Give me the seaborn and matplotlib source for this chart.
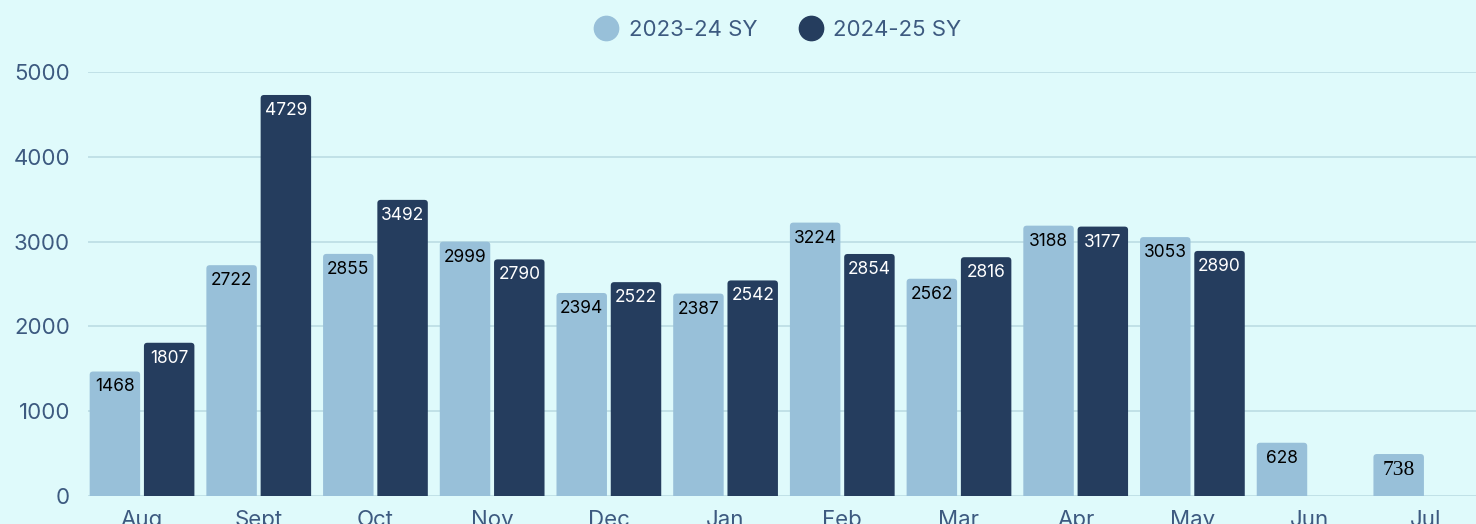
import numpy as np
import pandas as pd
import matplotlib
matplotlib.use("Agg")
import matplotlib.pyplot as plt
from matplotlib.patches import FancyBboxPatch
from matplotlib.lines import Line2D
import seaborn as sns

months = ["Aug", "Sept", "Oct", "Nov", "Dec", "Jan", "Feb", "Mar", "Apr", "May", "Jun", "Jul"]
# bar heights as drawn in the picture (the Jul bar is drawn at ~495 although labelled 738)
sy_2023_24 = [1468, 2722, 2855, 2999, 2394, 2387, 3224, 2562, 3188, 3053, 628, 495]
sy_2024_25 = [1807, 4729, 3492, 2790, 2522, 2542, 2854, 2816, 3177, 2890, np.nan, np.nan]
labels_2023_24 = ["1468", "2722", "2855", "2999", "2394", "2387", "3224", "2562", "3188", "3053", "628", "738"]
labels_2024_25 = ["1807", "4729", "3492", "2790", "2522", "2542", "2854", "2816", "3177", "2890", "", ""]
series_names = ["2023-24 SY", "2024-25 SY"]
yticks = [0, 1000, 2000, 3000, 4000, 5000]

BG = "#dffafb"
LIGHT = "#98c0d9"
DARK = "#253d5e"
TXT = "#3d5a80"
GRID = "#bcdce3"

df = pd.DataFrame({
    "month": months * 2,
    "value": sy_2023_24 + sy_2024_25,
    "series": [series_names[0]] * len(months) + [series_names[1]] * len(months),
})

sns.set_theme(style="white")
plt.rcParams["font.family"] = ["Inter", "DejaVu Sans"]

fig = plt.figure(figsize=(14.76, 5.24), dpi=100, facecolor=BG)
ax = fig.add_axes([88 / 1476, 28 / 524, 1 - 88 / 1476, 424 / 524])
ax.set_facecolor(BG)

sns.barplot(data=df, x="month", y="value", hue="series", order=months,
            hue_order=series_names, palette=[LIGHT, DARK], width=0.93, gap=0.07,
            ax=ax, legend=False, saturation=1)

ax.set_ylim(0, 5000)
ax.set_xlim(-0.463, 11.43)
ax.set_yticks(yticks)
ax.grid(axis="y", color=GRID, linewidth=1.2)
ax.set_axisbelow(True)
for s in ax.spines.values():
    s.set_visible(False)
ax.set_xlabel("")
ax.set_ylabel("")
ax.tick_params(axis="both", length=0, labelsize=16, colors=TXT)
ax.tick_params(axis="x", pad=10)
ax.tick_params(axis="y", pad=13)

# rounded tops; containers are in hue order
for container, labs in zip(ax.containers, [labels_2023_24, labels_2024_25]):
    for p, lab in zip(container.patches, labs):
        h = p.get_height()
        if h is None or np.isnan(h) or h == 0:
            continue
        x, w = p.get_x(), p.get_width()
        fc = p.get_facecolor()
        p.set_visible(False)
        fb = FancyBboxPatch((x, -200), w, h + 200,
                            boxstyle="round,pad=0,rounding_size=0.03",
                            mutation_aspect=1300, facecolor=fc, edgecolor="none",
                            clip_on=True, zorder=2)
        ax.add_patch(fb)
        color = "white" if fc[0] < 0.3 else "black"
        fam = ["Inter", "DejaVu Sans"]
        size = 12.5
        if lab == "738":
            fam = ["Liberation Serif", "DejaVu Serif"]
            size = 15.5
        ax.annotate(lab, xy=(x + w / 2, h), xytext=(0, -5), textcoords="offset points",
                    ha="center", va="top", fontsize=size, color=color, family=fam, zorder=3)

handles = [Line2D([], [], marker="o", linestyle="", markersize=17.5, markerfacecolor=c,
                  markeredgecolor=c) for c in (LIGHT, DARK)]
fig.legend(handles, series_names, loc="center", bbox_to_anchor=(777 / 1476, 1 - 30 / 524),
           ncol=2, frameon=False, fontsize=16, labelcolor=TXT, handletextpad=0.4,
           columnspacing=1.8, handlelength=1.2)

fig.savefig("out.png", dpi=100, facecolor=BG)
